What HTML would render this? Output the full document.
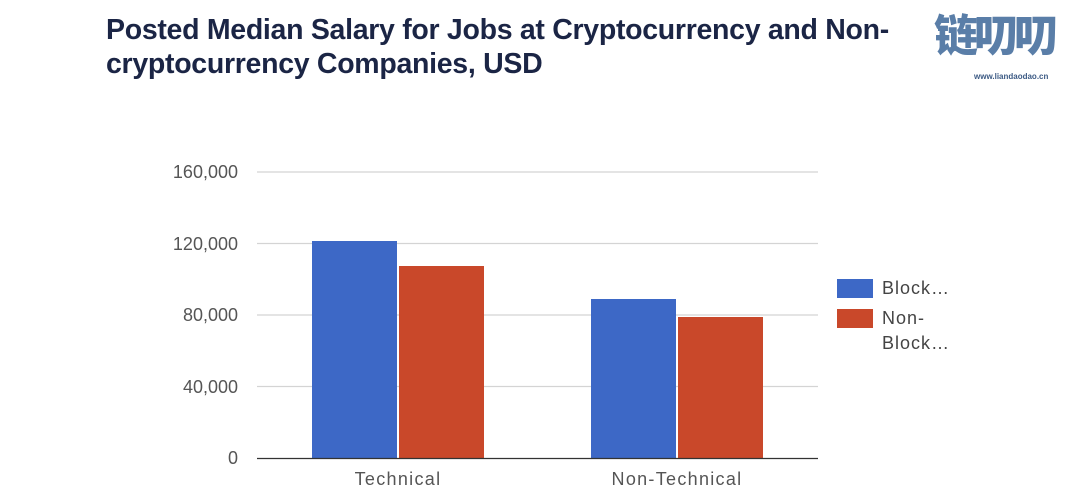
<!DOCTYPE html>
<html><head><meta charset="utf-8"><style>
body{margin:0;background:#fff;width:1080px;height:492px;overflow:hidden;position:relative;font-family:"Liberation Sans",sans-serif}
.t{position:absolute;left:106px;top:13px;font-size:28.5px;font-weight:bold;color:#1b2545;line-height:34px;letter-spacing:-0.3px}
.logo{position:absolute;left:934px;top:14px;font-family:"Liberation Sans","Noto Sans CJK SC",sans-serif;font-weight:900;font-size:44px;color:#5a7ea8;letter-spacing:-4px;line-height:46px}
.logo small{position:absolute;left:40px;top:40px;font-size:8px;letter-spacing:0;color:#3c5a84;font-weight:bold}
</style></head><body>
<div class="t">Posted Median Salary for Jobs at Cryptocurrency and Non-<br>cryptocurrency Companies, USD</div>
<div class="logo">链叨叨<small>www.liandaodao.cn</small></div>
<svg width="1080" height="492" style="position:absolute;left:0;top:0" font-family="Liberation Sans, sans-serif">
<g stroke="#d4d4d4" stroke-width="1.2">
<line x1="257" x2="818" y1="172" y2="172"/>
<line x1="257" x2="818" y1="243.5" y2="243.5"/>
<line x1="257" x2="818" y1="315" y2="315"/>
<line x1="257" x2="818" y1="386.5" y2="386.5"/>
</g>
<g font-size="18" fill="#555" text-anchor="end">
<text x="238" y="178">160,000</text>
<text x="238" y="250">120,000</text>
<text x="238" y="321">80,000</text>
<text x="238" y="393">40,000</text>
<text x="238" y="464">0</text>
</g>
<rect x="312" y="241" width="85" height="217" fill="#3d68c6"/>
<rect x="399" y="266" width="85" height="192" fill="#c9482a"/>
<rect x="591" y="299" width="85" height="159" fill="#3d68c6"/>
<rect x="678" y="317" width="85" height="141" fill="#c9482a"/>
<line x1="257" x2="818" y1="458.5" y2="458.5" stroke="#333" stroke-width="1.3"/>
<g font-size="18" fill="#555" text-anchor="middle" letter-spacing="1.3">
<text x="398" y="485">Technical</text>
<text x="677" y="485">Non-Technical</text>
</g>
<rect x="837" y="279" width="36" height="19" fill="#3d68c6"/>
<rect x="837" y="309" width="36" height="19" fill="#c9482a"/>
<g font-size="18" fill="#444" letter-spacing="1">
<text x="882" y="294">Block…</text>
<text x="882" y="324">Non-</text>
<text x="882" y="349">Block…</text>
</g>
</svg>
</body></html>
